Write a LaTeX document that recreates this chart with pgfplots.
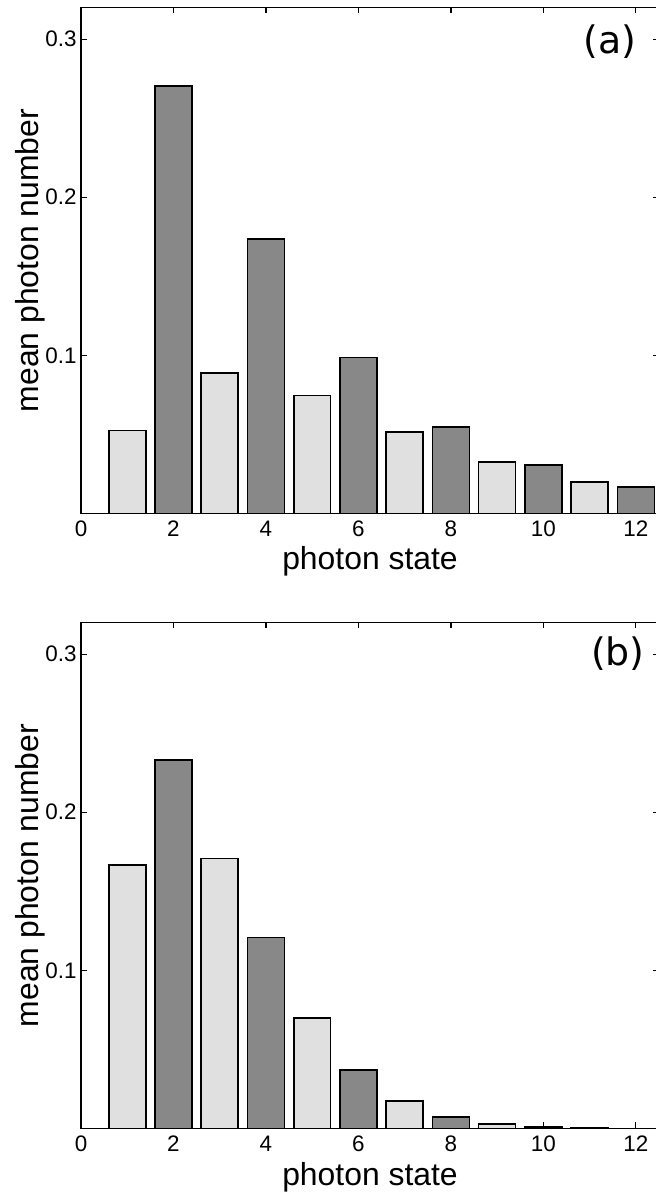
\documentclass[border=0pt]{standalone}
\usepackage{fontspec}
\setmainfont{Liberation Sans}
\newfontfamily\dejavu{DejaVu Sans}
\usepackage{pgfplots}
\pgfplotsset{compat=1.18}
\definecolor{lightbar}{HTML}{E0E0E0}
\definecolor{darkbar}{HTML}{888888}
\pgfplotsset{photon/.style={
  scale only axis, width=578bp, height=506bp,
  xmin=0, xmax=12.5, ymin=0, ymax=0.32,
  xtick={0,2,4,6,8,10,12}, ytick={0.1,0.2,0.3},
  yticklabels={0.1,0.2,0.3},
  tick align=inside, major tick length=6bp,
  tick style={black, line width=1.2bp},
  axis line style={line width=1.8bp},
  tick label style={font=\fontsize{22.5}{26}\selectfont},
  /pgf/number format/assume math mode=true,
  xticklabel style={yshift=-4bp},
  yticklabel style={xshift=-1bp},
  xlabel={photon state}, ylabel={mean photon number},
  label style={font=\fontsize{32}{38}\selectfont},
  xlabel style={at={(axis description cs:0.5,0)}, anchor=base, yshift=-56.5bp},
  ylabel style={at={(axis description cs:0,0.5)}, anchor=center, yshift=51bp},
  bars/.style={ybar, bar width=0.8, bar shift=0pt, draw=black, line width=1.6bp},
}}
\begin{document}
\begin{tikzpicture}
\begin{axis}[photon, at={(81bp,679.5bp)}, anchor=south west]
\addplot[bars, fill=lightbar] coordinates {(1,0.0524) (3,0.0888) (5,0.0745) (7,0.0514) (9,0.0326) (11,0.0200)};
\addplot[bars, fill=darkbar] coordinates {(2,0.2703) (4,0.1737) (6,0.0987) (8,0.0547) (10,0.0305) (12,0.0168)};
\node[font=\dejavu\fontsize{38}{44}\selectfont, anchor=center] at (axis description cs:0.915,0.933) {(a)};
\end{axis}
\begin{axis}[photon, at={(81bp,64.5bp)}, anchor=south west]
\addplot[bars, fill=lightbar] coordinates {(1,0.1666) (3,0.1708) (5,0.0700) (7,0.0173) (9,0.0027) (11,0.0003)};
\addplot[bars, fill=darkbar] coordinates {(2,0.2329) (4,0.1209) (6,0.0369) (8,0.0074) (10,0.0010) (12,0.0001)};
\node[font=\dejavu\fontsize{38}{44}\selectfont, anchor=center] at (axis description cs:0.929,0.939) {(b)};
\end{axis}
\pgfresetboundingbox
\path[use as bounding box] (0,0) rectangle (656bp,1193bp);
\end{tikzpicture}
\end{document}
